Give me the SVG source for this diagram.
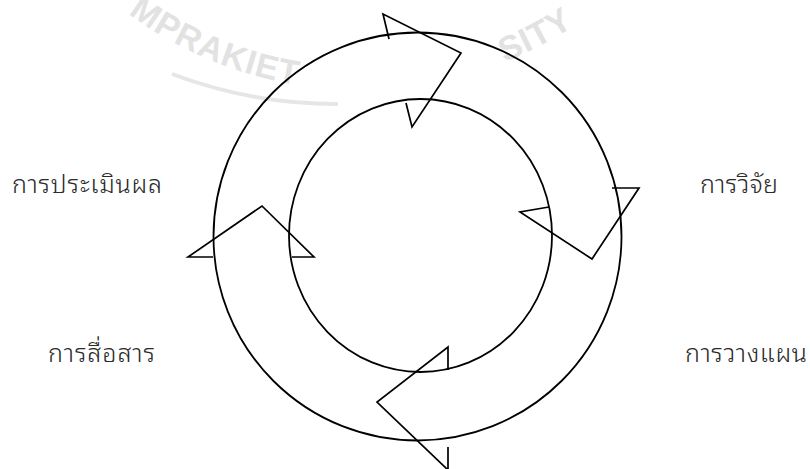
<svg xmlns="http://www.w3.org/2000/svg" width="810" height="469" viewBox="0 0 810 469">
  <defs>
    <style>
      .ring { fill: none; stroke: #000; stroke-width: 1.8; }
      .arrow { fill: none; stroke: #000; stroke-width: 1.7; stroke-linejoin: miter; stroke-linecap: butt; }
      .label { font-family: "Noto Sans Thai Looped", "Noto Sans Thai", "Noto Sans", "DejaVu Sans", sans-serif; font-size: 25px; font-weight: 300; fill: #2a2a2a; }
      .wm { font-family: "Liberation Sans", Arial, sans-serif; font-size: 34px; font-weight: bold; fill: #e2e2e2; letter-spacing: 1px; }
      .wmring { fill: none; stroke: #e6e6e6; stroke-width: 4; }
    </style>
    <path id="wmArc" d="M 22.3 -105 A 390 390 0 0 0 697.7 -105"/>
  </defs>
  <rect width="810" height="469" fill="#fff"/>

  <g id="watermark">
    <path class="wmring" d="M 172 74 A 466 466 0 0 0 338 104"/>
    <text class="wm"><textPath href="#wmArc" startOffset="160">MPRAKIET</textPath></text>
    <text class="wm"><textPath href="#wmArc" startOffset="556">SITY</textPath></text>
  </g>

  <g id="outer-ring">
    <circle class="ring" cx="417.5" cy="236.5" r="204"/>
  </g>
  <g id="inner-ring">
    <ellipse class="ring" cx="420.5" cy="235.5" rx="131.5" ry="136.5"/>
  </g>

  <g id="connectors">
    <polyline id="arrow-top" class="arrow" points="389,39 383,14 461,53 412,127 406,103"/>
    <polyline id="arrow-right" class="arrow" points="612,188 639,188 592,259 520,212 549,207"/>
    <polyline id="arrow-bottom" class="arrow" points="448,370 448,347 377,402 448,470 448,447"/>
    <polyline id="arrow-left" class="arrow" points="213,257 188,257 262,206 314,257 292,257"/>
  </g>

  <g id="node-evaluation"><text class="label" x="12" y="193" textLength="150" lengthAdjust="spacing">การประเมินผล</text></g>
  <g id="node-research"><text class="label" x="700" y="193" textLength="78" lengthAdjust="spacing">การวิจัย</text></g>
  <g id="node-communication"><text class="label" x="48" y="362" textLength="107" lengthAdjust="spacing">การสื่อสาร</text></g>
  <g id="node-planning"><text class="label" x="685" y="362" textLength="122" lengthAdjust="spacing">การวางแผน</text></g>
</svg>
